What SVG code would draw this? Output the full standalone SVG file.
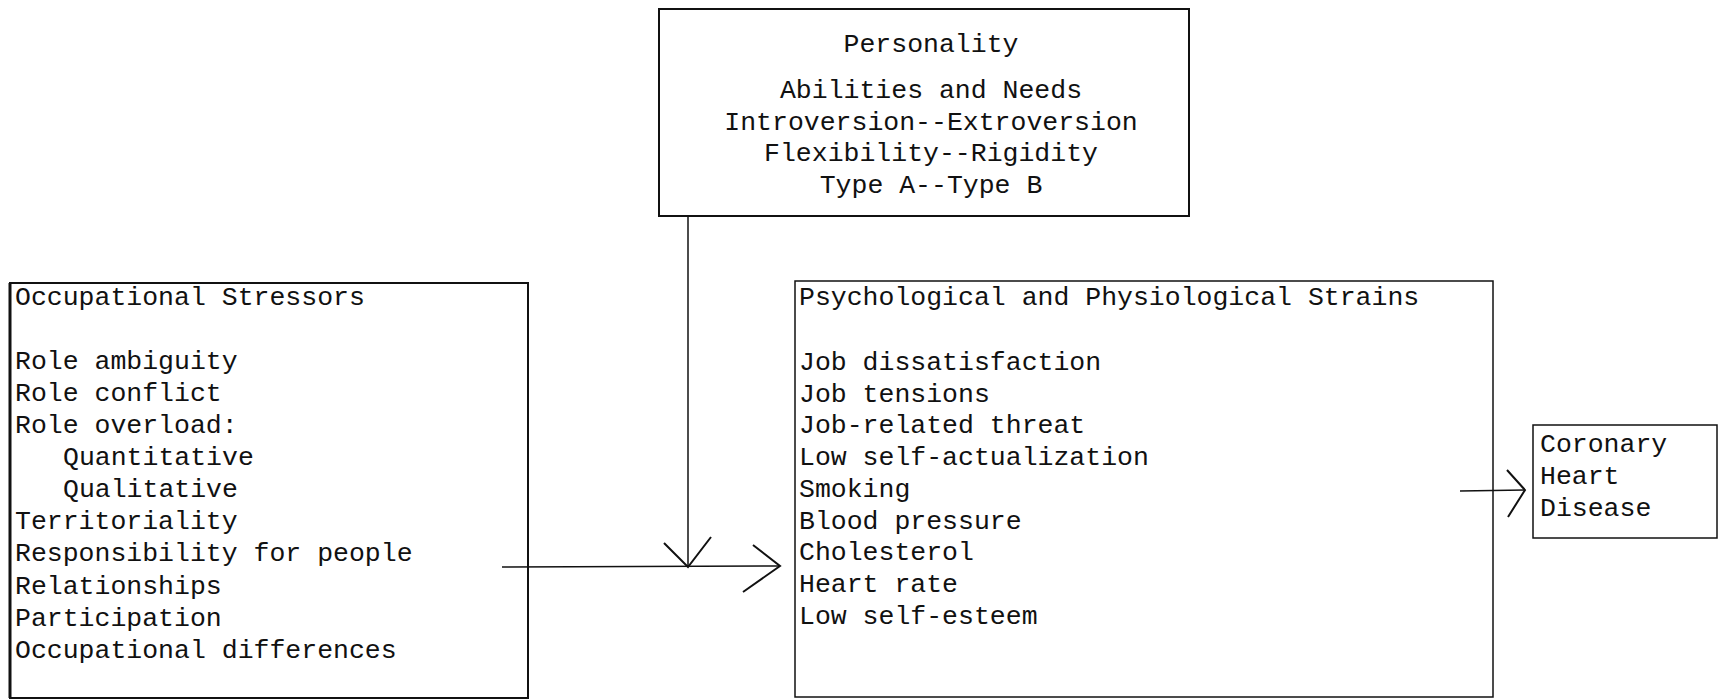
<svg xmlns="http://www.w3.org/2000/svg" width="1719" height="700" viewBox="0 0 1719 700">
<style>
text{font-family:"Liberation Mono","DejaVu Sans Mono",monospace;font-size:26.5px;fill:#111}
.box{fill:none;stroke:#111;stroke-width:2}
.thin{fill:none;stroke:#111;stroke-width:1.5}
.c{text-anchor:middle}
</style>
<rect width="1719" height="700" fill="#fff"/>
<g id="personality">
<rect class="box" x="659" y="9" width="530" height="207"/>
<text class="c" x="931" y="52">Personality</text>
<text class="c" x="931" y="98">Abilities and Needs</text>
<text class="c" x="931" y="130">Introversion--Extroversion</text>
<text class="c" x="931" y="161">Flexibility--Rigidity</text>
<text class="c" x="931" y="193">Type A--Type B</text>
</g>
<g id="stressors">
<rect class="box" x="10" y="283" width="518" height="415"/>
<line x1="10" y1="283" x2="10" y2="698" stroke="#111" stroke-width="3"/>
<text x="15" y="305">Occupational Stressors</text>
<text x="15" y="369">Role ambiguity</text>
<text x="15" y="401">Role conflict</text>
<text x="15" y="433">Role overload:</text>
<text x="63" y="465">Quantitative</text>
<text x="63" y="497">Qualitative</text>
<text x="15" y="529">Territoriality</text>
<text x="15" y="561">Responsibility for people</text>
<text x="15" y="594">Relationships</text>
<text x="15" y="626">Participation</text>
<text x="15" y="658">Occupational differences</text>
</g>
<g id="strains">
<rect class="thin" x="795" y="281" width="698" height="416"/>
<text x="799" y="305">Psychological and Physiological Strains</text>
<text x="799" y="370">Job dissatisfaction</text>
<text x="799" y="402">Job tensions</text>
<text x="799" y="433">Job-related threat</text>
<text x="799" y="465">Low self-actualization</text>
<text x="799" y="497">Smoking</text>
<text x="799" y="529">Blood pressure</text>
<text x="799" y="560">Cholesterol</text>
<text x="799" y="592">Heart rate</text>
<text x="799" y="624">Low self-esteem</text>
</g>
<g id="chd">
<rect class="thin" x="1533" y="425" width="184" height="113"/>
<text x="1540" y="452">Coronary</text>
<text x="1540" y="484">Heart</text>
<text x="1540" y="516">Disease</text>
</g>
<g id="connectors" fill="none" stroke="#111" stroke-width="1.5">
<line x1="688" y1="216" x2="688" y2="567"/>
<polyline points="664,543 688,567 711,537" stroke-width="2"/>
<line x1="502" y1="567" x2="780" y2="566"/>
<polyline points="753,545 780,566 743,592" stroke-width="2"/>
<line x1="1460" y1="491" x2="1525" y2="490"/>
<polyline points="1507,470 1525,490 1508,517" stroke-width="2"/>
</g>
</svg>
